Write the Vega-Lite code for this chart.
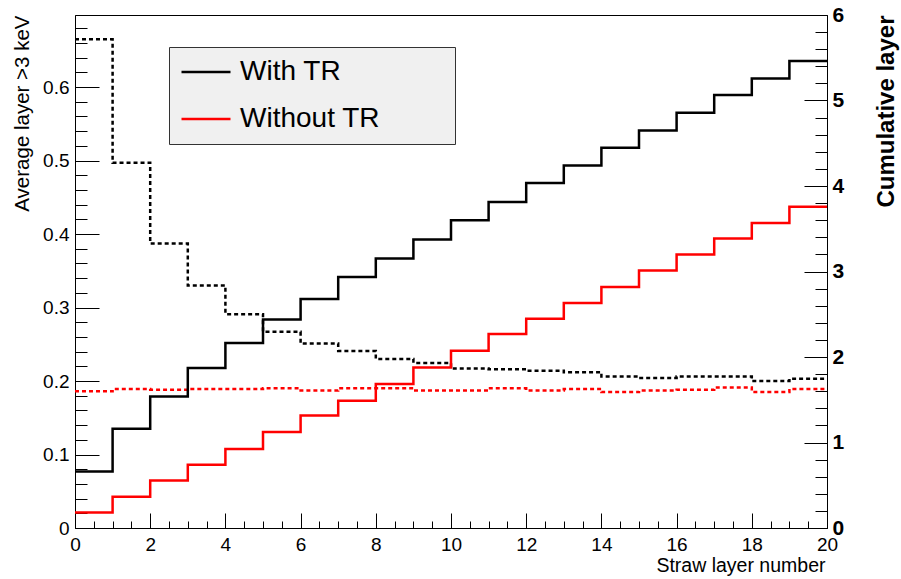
{
  "$schema": "https://vega.github.io/schema/vega-lite/v6.json",
  "width": 752,
  "height": 513,
  "autosize": {"type": "none"},
  "padding": {"left": 75, "top": 15, "right": 74, "bottom": 51},
  "background": "white",
  "config": {
    "view": {"stroke": "#000", "strokeWidth": 1},
    "font": "Liberation Sans",
    "axis": {
      "grid": false,
      "domainColor": "#000",
      "domainWidth": 1,
      "tickColor": "#000",
      "tickWidth": 1,
      "labelColor": "#000",
      "titleColor": "#000",
      "labelFont": "Liberation Sans",
      "titleFont": "Liberation Sans",
      "labelFlush": false,
      "labelOverlap": false,
      "titleFontWeight": "normal"
    }
  },
  "data": {
    "values": [
      {"series": "With TR", "bin_lo": 0, "bin_hi": 1, "avg": 0.665, "cum": 0.662},
      {"series": "With TR", "bin_lo": 1, "bin_hi": 2, "avg": 0.497, "cum": 1.161},
      {"series": "With TR", "bin_lo": 2, "bin_hi": 3, "avg": 0.387, "cum": 1.539},
      {"series": "With TR", "bin_lo": 3, "bin_hi": 4, "avg": 0.330, "cum": 1.871},
      {"series": "With TR", "bin_lo": 4, "bin_hi": 5, "avg": 0.291, "cum": 2.164},
      {"series": "With TR", "bin_lo": 5, "bin_hi": 6, "avg": 0.267, "cum": 2.440},
      {"series": "With TR", "bin_lo": 6, "bin_hi": 7, "avg": 0.251, "cum": 2.678},
      {"series": "With TR", "bin_lo": 7, "bin_hi": 8, "avg": 0.241, "cum": 2.936},
      {"series": "With TR", "bin_lo": 8, "bin_hi": 9, "avg": 0.230, "cum": 3.153},
      {"series": "With TR", "bin_lo": 9, "bin_hi": 10, "avg": 0.2245, "cum": 3.375},
      {"series": "With TR", "bin_lo": 10, "bin_hi": 11, "avg": 0.217, "cum": 3.598},
      {"series": "With TR", "bin_lo": 11, "bin_hi": 12, "avg": 0.216, "cum": 3.813},
      {"series": "With TR", "bin_lo": 12, "bin_hi": 13, "avg": 0.214, "cum": 4.035},
      {"series": "With TR", "bin_lo": 13, "bin_hi": 14, "avg": 0.212, "cum": 4.241},
      {"series": "With TR", "bin_lo": 14, "bin_hi": 15, "avg": 0.206, "cum": 4.448},
      {"series": "With TR", "bin_lo": 15, "bin_hi": 16, "avg": 0.204, "cum": 4.650},
      {"series": "With TR", "bin_lo": 16, "bin_hi": 17, "avg": 0.206, "cum": 4.857},
      {"series": "With TR", "bin_lo": 17, "bin_hi": 18, "avg": 0.206, "cum": 5.064},
      {"series": "With TR", "bin_lo": 18, "bin_hi": 19, "avg": 0.200, "cum": 5.258},
      {"series": "With TR", "bin_lo": 19, "bin_hi": 20, "avg": 0.203, "cum": 5.462},
      {"series": "Without TR", "bin_lo": 0, "bin_hi": 1, "avg": 0.186, "cum": 0.180},
      {"series": "Without TR", "bin_lo": 1, "bin_hi": 2, "avg": 0.189, "cum": 0.366},
      {"series": "Without TR", "bin_lo": 2, "bin_hi": 3, "avg": 0.188, "cum": 0.557},
      {"series": "Without TR", "bin_lo": 3, "bin_hi": 4, "avg": 0.189, "cum": 0.740},
      {"series": "Without TR", "bin_lo": 4, "bin_hi": 5, "avg": 0.189, "cum": 0.924},
      {"series": "Without TR", "bin_lo": 5, "bin_hi": 6, "avg": 0.190, "cum": 1.124},
      {"series": "Without TR", "bin_lo": 6, "bin_hi": 7, "avg": 0.187, "cum": 1.317},
      {"series": "Without TR", "bin_lo": 7, "bin_hi": 8, "avg": 0.190, "cum": 1.489},
      {"series": "Without TR", "bin_lo": 8, "bin_hi": 9, "avg": 0.190, "cum": 1.684},
      {"series": "Without TR", "bin_lo": 9, "bin_hi": 10, "avg": 0.187, "cum": 1.878},
      {"series": "Without TR", "bin_lo": 10, "bin_hi": 11, "avg": 0.187, "cum": 2.074},
      {"series": "Without TR", "bin_lo": 11, "bin_hi": 12, "avg": 0.190, "cum": 2.269},
      {"series": "Without TR", "bin_lo": 12, "bin_hi": 13, "avg": 0.187, "cum": 2.448},
      {"series": "Without TR", "bin_lo": 13, "bin_hi": 14, "avg": 0.189, "cum": 2.632},
      {"series": "Without TR", "bin_lo": 14, "bin_hi": 15, "avg": 0.185, "cum": 2.819},
      {"series": "Without TR", "bin_lo": 15, "bin_hi": 16, "avg": 0.187, "cum": 3.013},
      {"series": "Without TR", "bin_lo": 16, "bin_hi": 17, "avg": 0.188, "cum": 3.200},
      {"series": "Without TR", "bin_lo": 17, "bin_hi": 18, "avg": 0.191, "cum": 3.387},
      {"series": "Without TR", "bin_lo": 18, "bin_hi": 19, "avg": 0.185, "cum": 3.567},
      {"series": "Without TR", "bin_lo": 19, "bin_hi": 20, "avg": 0.189, "cum": 3.758}
    ]
  },
  "transform": [{"fold": ["bin_lo", "bin_hi"], "as": ["edge", "x"]}],
  "encoding": {
    "x": {
      "field": "x",
      "type": "quantitative",
      "scale": {"domain": [0, 20], "nice": false, "zero": false},
      "axis": {
        "values": [0, 0.5, 1, 1.5, 2, 2.5, 3, 3.5, 4, 4.5, 5, 5.5, 6, 6.5, 7, 7.5, 8, 8.5, 9, 9.5, 10, 10.5, 11, 11.5, 12, 12.5, 13, 13.5, 14, 14.5, 15, 15.5, 16, 16.5, 17, 17.5, 18, 18.5, 19, 19.5, 20],
        "labelExpr": "datum.value % 2 === 0 ? format(datum.value, 'd') : ''",
        "tickSize": {"condition": {"test": "datum.value % 2 === 0", "value": -15}, "value": -7},
        "labelPadding": 22,
        "labelFontSize": 19,
        "title": "Straw layer number",
        "titleFontSize": 19.5,
        "titleAlign": "right",
        "titleBaseline": "alphabetic",
        "titleX": 750,
        "titleY": 43
      }
    },
    "color": {
      "field": "series",
      "type": "nominal",
      "scale": {"domain": ["With TR", "Without TR"], "range": ["#000000", "#ff0000"]},
      "legend": {
        "orient": "none",
        "legendX": 94,
        "legendY": 32,
        "title": null,
        "fillColor": "#f0f0f0",
        "strokeColor": "#333333",
        "padding": 11,
        "symbolType": "stroke",
        "symbolSize": 2401,
        "symbolStrokeWidth": 2.5,
        "symbolDash": [1, 0],
        "labelFontSize": 28,
        "labelFont": "Liberation Sans",
        "labelColor": "#000",
        "labelOffset": 8,
        "labelLimit": 500,
        "rowPadding": 19,
        "clipHeight": 28,
        "labelExpr": "datum.label + '\u2800\u2800\u2800'"
      }
    },
    "order": [
      {"field": "x", "type": "quantitative"},
      {"field": "bin_lo", "type": "quantitative"}
    ]
  },
  "layer": [
    {
      "mark": {"type": "line", "strokeDash": [4, 3], "strokeWidth": 2.5, "strokeJoin": "miter"},
      "encoding": {
        "y": {
          "field": "avg",
          "type": "quantitative",
          "scale": {"domain": [0, 0.698], "nice": false, "zero": false},
          "axis": {
            "orient": "left",
            "values": [0, 0.02, 0.04, 0.06, 0.08, 0.1, 0.12, 0.14, 0.16, 0.18, 0.2, 0.22, 0.24, 0.26, 0.28, 0.3, 0.32, 0.34, 0.36, 0.38, 0.4, 0.42, 0.44, 0.46, 0.48, 0.5, 0.52, 0.54, 0.56, 0.58, 0.6, 0.62, 0.64, 0.66, 0.68],
            "labelExpr": "abs(datum.value * 10 - round(datum.value * 10)) < 0.001 ? format(datum.value, '.1~f') : ''",
            "tickSize": {"condition": {"test": "abs(datum.value * 10 - round(datum.value * 10)) < 0.001", "value": -24}, "value": -12},
            "labelPadding": 30,
            "labelFontSize": 19,
            "title": "Average layer >3 keV",
            "titleFontSize": 20.5,
            "titleAngle": 270,
            "titleAlign": "right",
            "titleBaseline": "alphabetic",
            "titleX": -47,
            "titleY": 0
          }
        }
      }
    },
    {
      "mark": {"type": "line", "strokeWidth": 2.5, "strokeJoin": "miter"},
      "encoding": {
        "y": {
          "field": "cum",
          "type": "quantitative",
          "scale": {"domain": [0, 6], "nice": false, "zero": false},
          "axis": {
            "orient": "right",
            "values": [0, 0.2, 0.4, 0.6, 0.8, 1, 1.2, 1.4, 1.6, 1.8, 2, 2.2, 2.4, 2.6, 2.8, 3, 3.2, 3.4, 3.6, 3.8, 4, 4.2, 4.4, 4.6, 4.8, 5, 5.2, 5.4, 5.6, 5.8, 6],
            "labelExpr": "abs(datum.value - round(datum.value)) < 0.001 ? format(datum.value, 'd') : ''",
            "tickSize": {"condition": {"test": "abs(datum.value - round(datum.value)) < 0.001", "value": -23}, "value": -12},
            "labelPadding": 28,
            "labelFontSize": 21,
            "labelFontWeight": "bold",
            "title": "Cumulative layer",
            "titleFontSize": 24,
            "titleFontWeight": "bold",
            "titleAngle": 270,
            "titleAlign": "right",
            "titleBaseline": "alphabetic",
            "titleX": 66,
            "titleY": 0
          }
        }
      }
    }
  ],
  "resolve": {"scale": {"y": "independent"}}
}
